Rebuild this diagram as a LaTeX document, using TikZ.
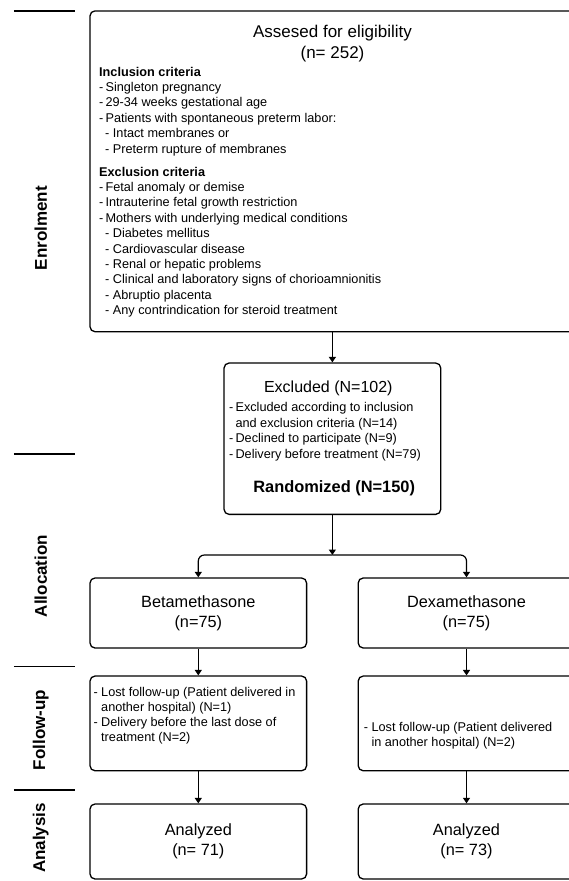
\documentclass[tikz,border=0pt]{standalone}
\usepackage{fontspec}
\setmainfont{Liberation Sans}
\usetikzlibrary{arrows.meta,positioning,calc}
\tikzset{
  box/.style={draw, rounded corners=5pt, line width=1.3pt, inner sep=0pt, align=center},
  lane/.style={rotate=90, font=\fontsize{17}{20}\selectfont\bfseries},
  txt/.style={anchor=north west, inner sep=0pt, align=left},
  sepline/.style={line width=1.4pt},
  arrow/.style={-{Triangle[width=7pt,length=5.5pt]}, line width=1.2pt},
}

\begin{document}
\begin{tikzpicture}[x=1pt, y=-1pt]
    \useasboundingbox (0,0) rectangle (569,881);

    % Stage labels on the left
    \foreach \y in {10.9,454,666.7,790}
      \draw[sepline] (13.8,\y) -- (75,\y);
    \node[lane] (enrol) at (40.8,228.3) {Enrolment};
    \node[lane] (alloc) at (40.8,576) {Allocation};
    \node[lane] (follow) at (40.8,730) {Follow-up};
    \node[lane] (analysis) at (40.8,838) {Analysis};

    % Eligibility box
    \node[box, minimum width=485pt, minimum height=320.8pt] (assess) at (332.5,171.3) {};
    \node[font=\fontsize{17}{21}\selectfont, align=center] (assesstitle) at (332.5,43.5)
      {Assesed for eligibility\\(n= 252)};
    \node[txt, font=\fontsize{12.7}{15.4}\selectfont] (criteria) at (99,66.7)
      {\textbf{Inclusion criteria}\\
       -\,Singleton pregnancy\\
       -\,29-34 weeks gestational age\\
       -\,Patients with spontaneous preterm labor:\\
       \hspace*{6pt}- Intact membranes or\\
       \hspace*{6pt}- Preterm rupture of membranes\\[7.6pt]
       \textbf{Exclusion criteria}\\
       -\,Fetal anomaly or demise\\
       -\,Intrauterine fetal growth restriction\\
       -\,Mothers with underlying medical conditions\\
       \hspace*{6pt}- Diabetes mellitus\\
       \hspace*{6pt}- Cardiovascular disease\\
       \hspace*{6pt}- Renal or hepatic problems\\
       \hspace*{6pt}- Clinical and laboratory signs of chorioamnionitis\\
       \hspace*{6pt}- Abruptio placenta\\
       \hspace*{6pt}- Any contrindication for steroid treatment};

    % Excluded and randomized
    \node[box, minimum width=216.7pt, minimum height=151.3pt] (excl) at (332.4,438.7) {};
    \node[font=\fontsize{16}{19}\selectfont] (excltitle) at (328.3,388.3) {Excluded (N=102)};
    \node[txt, font=\fontsize{12.7}{15.6}\selectfont] (excllist) at (229,402.3)
      {-\,Excluded according to inclusion\\
       \hspace*{6.3pt}and exclusion criteria (N=14)\\
       -\,Declined to participate (N=9)\\
       -\,Delivery before treatment (N=79)};
    \node[font=\fontsize{16.4}{19}\selectfont\bfseries] (rand) at (334.2,488.3) {Randomized (N=150)};

    % Allocation
    \node[box, minimum width=216.6pt, minimum height=70pt, font=\fontsize{16.3}{20}\selectfont] (beta) at (198.3,613)
      {Betamethasone\\(n=75)};
    \node[box, minimum width=216.6pt, minimum height=70pt, font=\fontsize{16.3}{20}\selectfont] (dexa) at (466.5,613)
      {Dexamethasone\\(n=75)};

    % Follow-up
    \node[box, minimum width=216.6pt, minimum height=94.7pt] (lostL) at (198.3,723.4) {};
    \node[box, minimum width=216.6pt, minimum height=94.7pt] (lostR) at (466.5,723.4) {};
    \node[txt, font=\fontsize{12.7}{15}\selectfont] (lostLtxt) at (93.3,686.7)
      {- Lost follow-up (Patient delivered in\\
       \hspace*{7.7pt}another hospital) (N=1)\\
       - Delivery before the last dose of\\
       \hspace*{7.7pt}treatment (N=2)};
    \node[txt, font=\fontsize{12.7}{15}\selectfont] (lostRtxt) at (363.6,721.7)
      {- Lost follow-up (Patient delivered\\
       \hspace*{7.7pt}in another hospital) (N=2)};

    % Analysis
    \node[box, minimum width=216.6pt, minimum height=75pt, font=\fontsize{16.3}{20}\selectfont] (anaL) at (198.3,841.5)
      {Analyzed\\(n= 71)};
    \node[box, minimum width=216.6pt, minimum height=75pt, font=\fontsize{16.3}{20}\selectfont] (anaR) at (466.5,841.5)
      {Analyzed\\(n= 73)};

    % Arrows
    \coordinate (split) at (332.4,555);
    \draw[arrow] (assess.south -| excl.north) -- (excl.north);
    \draw[arrow] (excl.south) -- (split);
    \draw[arrow, rounded corners=6pt] (split) -| (beta.north);
    \draw[arrow, rounded corners=6pt] (split) -| (dexa.north);
    \draw[arrow] (beta.south) -- (lostL.north);
    \draw[arrow] (dexa.south) -- (lostR.north);
    \draw[arrow] (lostL.south) -- (anaL.north);
    \draw[arrow] (lostR.south) -- (anaR.north);
\end{tikzpicture}
\end{document}
